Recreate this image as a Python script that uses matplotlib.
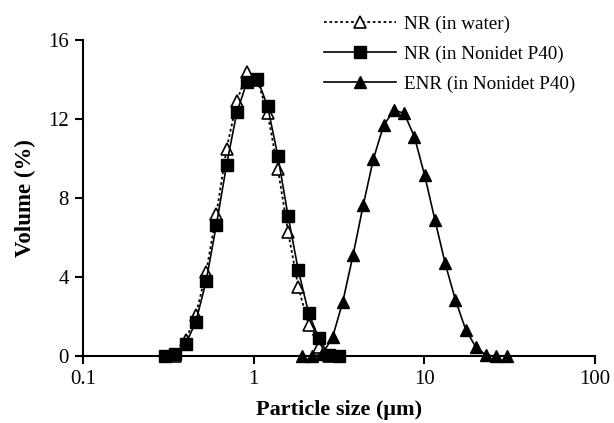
import numpy as np
import matplotlib
matplotlib.use("Agg")
import matplotlib.pyplot as plt
from matplotlib.ticker import FixedLocator, FuncFormatter, NullLocator

plt.rcParams['font.family'] = ['Liberation Serif', 'DejaVu Serif']

# particle size bins (um), log-spaced
x_nr = 10 ** (-0.518 + 0.06 * np.arange(18))
x_enr = 10 ** (0.2824 + 0.06 * np.arange(21))

# volume (%) per bin
nr_water = [np.nan, 0.0, 0.8, 2.1, 4.25, 7.2, 10.5, 12.9, 14.4, 14.0,
            12.3, 9.5, 6.3, 3.5, 1.6, 0.45, 0.0, np.nan]
nr_nonidet = [0.0, 0.1, 0.6, 1.75, 3.8, 6.65, 9.7, 12.35, 13.9, 14.05,
              12.65, 10.15, 7.1, 4.35, 2.2, 0.9, 0.05, 0.0]
enr_nonidet = [0.0, 0.0, 0.1, 0.95, 2.75, 5.1, 7.65, 10.0, 11.7, 12.45,
               12.3, 11.1, 9.15, 6.9, 4.7, 2.85, 1.35, 0.45, 0.05, 0.0, 0.0]

fig = plt.figure(figsize=(6.14, 4.23), dpi=100)
ax = fig.add_axes([0.135, 0.158, 0.834, 0.747])

ax.plot(x_nr, nr_water, color='black', lw=1.3, ls=(0, (1.5, 1.5)),
        marker='^', ms=8, mfc='white', mec='black', mew=1.2,
        label='NR (in water)', clip_on=False)
ax.plot(x_nr, nr_nonidet, color='black', lw=1.2, ls='-',
        marker='s', ms=8, mfc='black', mec='black',
        label='NR (in Nonidet P40)', clip_on=False)
ax.plot(x_enr, enr_nonidet, color='black', lw=1.2, ls='-',
        marker='^', ms=9, mfc='black', mec='black',
        label='ENR (in Nonidet P40)', clip_on=False)

ax.set_xscale('log')
ax.set_xlim(0.1, 100)
ax.set_ylim(0, 16)
ax.xaxis.set_major_locator(FixedLocator([0.1, 1, 10, 100]))
ax.xaxis.set_major_formatter(FuncFormatter(lambda v, p: '%g' % v))
ax.xaxis.set_minor_locator(NullLocator())
ax.set_yticks([0, 4, 8, 12, 16])

for s in ['top', 'right']:
    ax.spines[s].set_visible(False)
for s in ['left', 'bottom']:
    ax.spines[s].set_linewidth(1.5)
ax.tick_params(direction='out', length=6, width=1.5, labelsize=15, pad=4)

ax.set_xlabel('Particle size (μm)', fontsize=16, fontweight='bold', labelpad=8)
ax.set_ylabel('Volume (%)', fontsize=16.5, fontweight='bold', labelpad=9)

# legend sits partly above the axes, no frame
leg = fig.legend(loc='upper left', bbox_to_anchor=(0.499, 1.005), frameon=False,
                 fontsize=13.8, handlelength=3.75, labelspacing=0.66,
                 handletextpad=0.45)

fig.savefig('out.png', dpi=100)
